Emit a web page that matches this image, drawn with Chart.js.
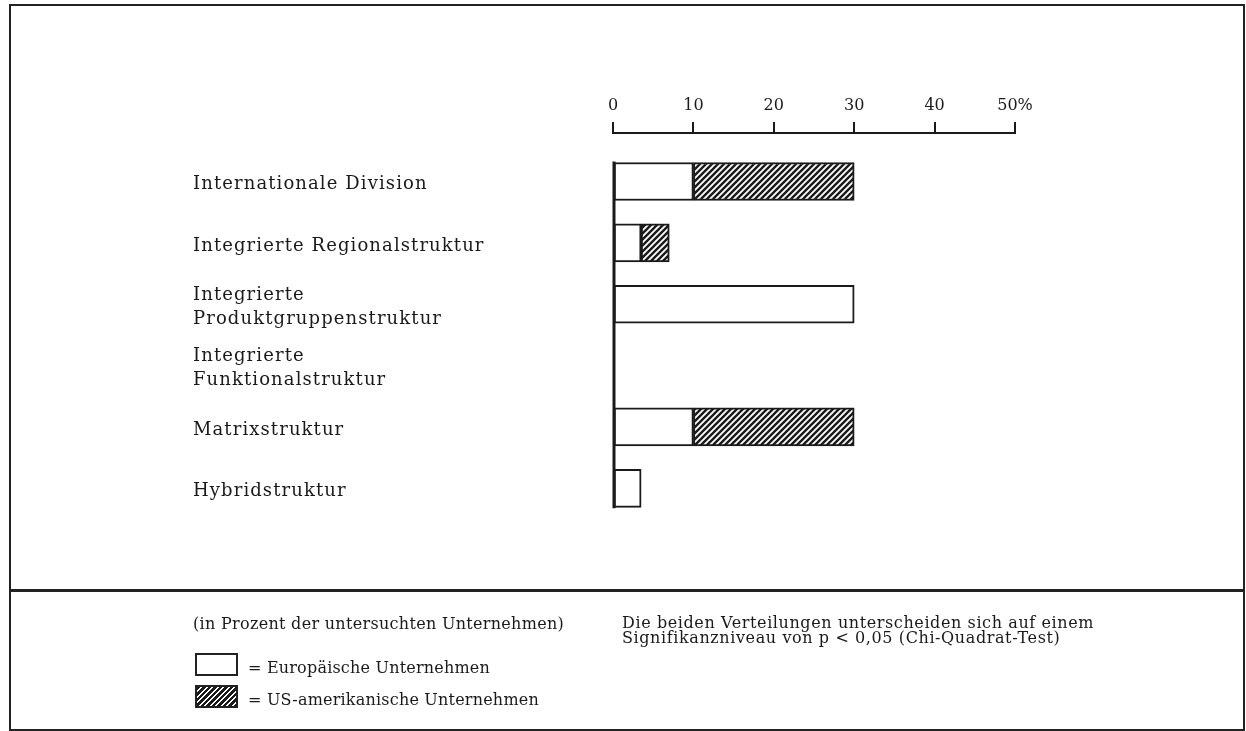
<!DOCTYPE html>
<html>
<head>
<meta charset="utf-8">
<script src="https://cdn.jsdelivr.net/npm/chart.js@4.4.1/dist/chart.umd.min.js"></script>
<style>
  html, body { margin: 0; padding: 0; background: #fff; }
  body { width: 1246px; height: 731px; position: relative; overflow: hidden;
         font-family: 'DejaVu Serif', serif; color: #1a1a1a; }
  #wrap { position: absolute; left: 0; top: 0; width: 1246px; height: 591px; }
  .frame { position: absolute; left: 9px; top: 4px; width: 1236px; height: 727px;
           border: 2px solid #222; box-sizing: border-box; pointer-events: none; }
  .divider { position: absolute; left: 9px; top: 589px; width: 1236px; height: 3px; background: #222; }
  .txt { position: absolute; font-size: 16px; line-height: 20px; white-space: nowrap; }
  .swatch { position: absolute; left: 195px; width: 43px; height: 23px;
            border: 2px solid #222; box-sizing: border-box; background: #fff; }
  .hatch { background: repeating-linear-gradient(135deg, #1a1a1a 0 2.6px, #fff 2.6px 3.9px); }
</style>
</head>
<body>
<div id="wrap"><canvas id="c" width="1246" height="591"></canvas></div>
<div class="frame"></div>
<div class="divider"></div>

<div class="txt" id="unitNote" style="left:193px;top:614px;letter-spacing:0.3px"></div>
<div class="swatch" style="top:653px"></div>
<div class="txt" id="leg0" style="left:248px;top:658px;letter-spacing:0.2px"></div>
<div class="swatch hatch" style="top:685px"></div>
<div class="txt" id="leg1" style="left:248px;top:690px;letter-spacing:0.2px"></div>
<div class="txt" id="testNote" style="left:622px;top:615px;line-height:15px;letter-spacing:0.6px"></div>

<script>
// Organisationsstrukturen, Anteil in Prozent der untersuchten Unternehmen
const categories = [
  'Internationale Division',
  'Integrierte Regionalstruktur',
  ['Integrierte', 'Produktgruppenstruktur'],
  ['Integrierte', 'Funktionalstruktur'],
  'Matrixstruktur',
  'Hybridstruktur'
];
const europeanShare = [10, 3.5, 30, 0, 10, 3.5];
const usShare       = [20, 3.5, 0, 0, 20, 0];   // stacked on top of the European share
const seriesNames = ['Europäische Unternehmen', 'US-amerikanische Unternehmen'];
const tickLabels = ['0', '10', '20', '30', '40', '50%'];
const unitText = '(in Prozent der untersuchten Unternehmen)';
const noteLines = [
  'Die beiden Verteilungen unterscheiden sich auf einem',
  'Signifikanzniveau von p < 0,05 (Chi-Quadrat-Test)'
];

document.getElementById('unitNote').textContent = unitText;
document.getElementById('leg0').textContent = '= ' + seriesNames[0];
document.getElementById('leg1').textContent = '= ' + seriesNames[1];
document.getElementById('testNote').innerHTML = noteLines.map(l =>
  l.replace(/&/g, '&amp;').replace(/</g, '&lt;')).join('<br>');

const INK = '#1a1a1a';
const canvas = document.getElementById('c');
const ctx = canvas.getContext('2d');

// diagonal hatching for the US bars
function makeHatch() {
  const s = 6;
  const tile = document.createElement('canvas');
  tile.width = s; tile.height = s;
  const g = tile.getContext('2d');
  g.fillStyle = '#fff';
  g.fillRect(0, 0, s, s);
  g.strokeStyle = INK;
  g.lineWidth = 2.4;
  g.beginPath();
  g.moveTo(-1, s + 1); g.lineTo(s + 1, -1);
  g.moveTo(-1, 1); g.lineTo(1, -1);
  g.moveTo(s - 1, s + 1); g.lineTo(s + 1, s - 1);
  g.stroke();
  return ctx.createPattern(tile, 'repeat');
}

// open tracking only for the category labels (their tick layer is drawn after the bars)
const tracking = {
  id: 'tracking',
  beforeDraw(chart) { chart.ctx.letterSpacing = '0px'; },
  afterDatasetsDraw(chart) { chart.ctx.letterSpacing = '1.1px'; },
  afterDraw(chart) { chart.ctx.letterSpacing = '0px'; }
};

// vertical base line running along the bar starts
const baseLine = {
  id: 'baseLine',
  afterDatasetsDraw(chart) {
    const bars = chart.getDatasetMeta(0).data;
    if (!bars.length) return;
    const first = bars[0], last = bars[bars.length - 1];
    const x = chart.scales.x.getPixelForValue(0) + 1;
    const c = chart.ctx;
    c.save();
    c.strokeStyle = INK;
    c.lineWidth = 3;
    c.beginPath();
    c.moveTo(x, first.y - first.height / 2 - 1);
    c.lineTo(x, last.y + last.height / 2 + 1);
    c.stroke();
    c.restore();
  }
};

Chart.defaults.font.family = "'DejaVu Serif', serif";
Chart.defaults.color = INK;

new Chart(ctx, {
  type: 'bar',
  data: {
    labels: categories,
    datasets: [
      {
        label: seriesNames[0],
        data: europeanShare,
        backgroundColor: '#fff',
        borderColor: INK,
        borderWidth: 2,
        borderSkipped: false,
        barThickness: 38
      },
      {
        label: seriesNames[1],
        data: usShare,
        backgroundColor: makeHatch(),
        borderColor: INK,
        borderWidth: 2,
        borderSkipped: false,
        barThickness: 38
      }
    ]
  },
  options: {
    indexAxis: 'y',
    responsive: false,
    animation: false,
    events: [],
    layout: { padding: { left: 193, right: 231, top: 0, bottom: 72 } },
    plugins: { legend: { display: false }, tooltip: { enabled: false } },
    scales: {
      x: {
        position: 'top',
        stacked: true,
        min: 0,
        max: 50,
        afterFit: s => { s.height = 133; },
        grid: { drawOnChartArea: false, drawTicks: true, tickLength: 11, lineWidth: 2, color: INK },
        border: { display: true, width: 2, color: INK },
        ticks: {
          stepSize: 10,
          maxRotation: 0,
          autoSkip: false,
          padding: 7,
          font: { size: 16 },
          callback: (v, i) => tickLabels[i]
        }
      },
      y: {
        stacked: true,
        afterFit: s => { s.width = 420; },
        // leave room above the first row for the value axis
        afterBuildTicks: s => { s._startValue = -0.79; s._valueRange = 6.29; },
        grid: { display: false },
        border: { display: false },
        ticks: {
          z: 1,
          autoSkip: false,
          crossAlign: 'far',
          labelOffset: 3,
          font: { size: 18, lineHeight: 1.36 }
        }
      }
    }
  },
  plugins: [tracking, baseLine]
});
</script>
</body>
</html>
